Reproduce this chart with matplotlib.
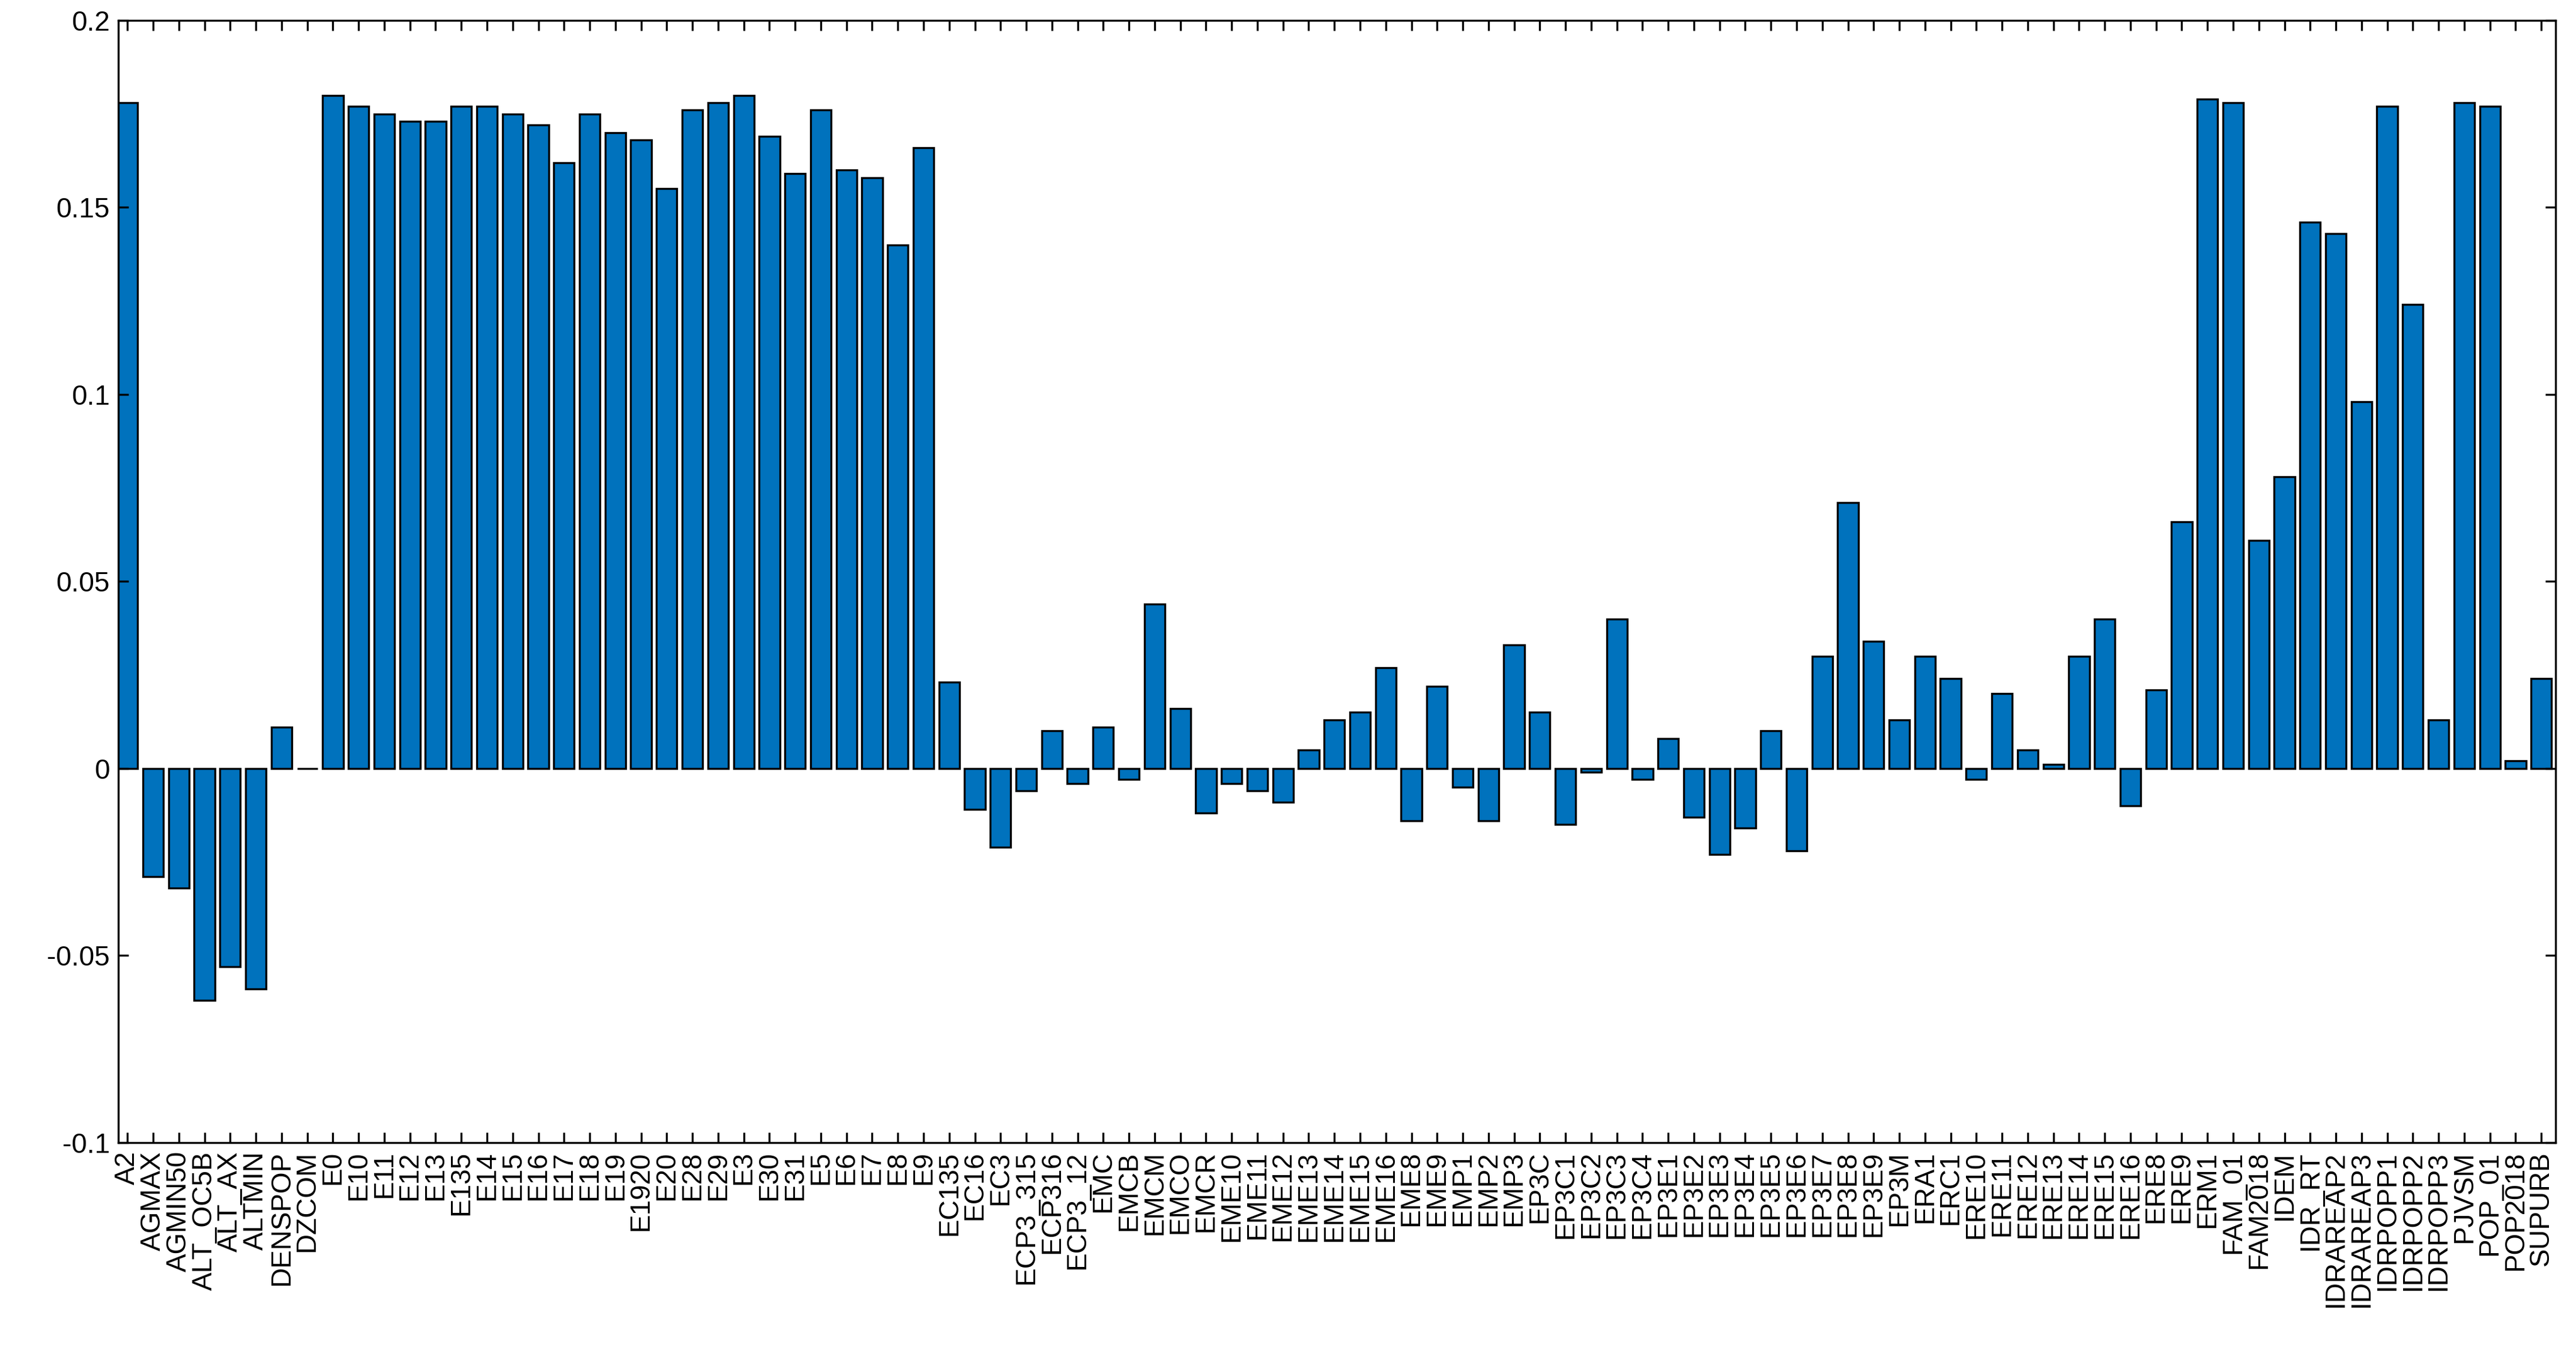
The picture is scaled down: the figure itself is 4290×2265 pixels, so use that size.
import matplotlib
matplotlib.use("Agg")
import matplotlib.pyplot as plt
import numpy as np

labels = ["A2","AGMAX","AGMIN50","ALT_OC5B","ALT_AX","ALTMIN","DENSPOP","DZCOM",
 "E0","E10","E11","E12","E13","E135","E14","E15","E16","E17","E18","E19","E1920","E20",
 "E28","E29","E3","E30","E31","E5","E6","E7","E8","E9","EC135","EC16","EC3","ECP3_315",
 "ECP316","ECP3_12","EMC","EMCB","EMCM","EMCO","EMCR","EME10","EME11","EME12","EME13",
 "EME14","EME15","EME16","EME8","EME9","EMP1","EMP2","EMP3","EP3C","EP3C1","EP3C2",
 "EP3C3","EP3C4","EP3E1","EP3E2","EP3E3","EP3E4","EP3E5","EP3E6","EP3E7","EP3E8","EP3E9",
 "EP3M","ERA1","ERC1","ERE10","ERE11","ERE12","ERE13","ERE14","ERE15","ERE16","ERE8",
 "ERE9","ERM1","FAM_01","FAM2018","IDEM","IDR_RT","IDRAREAP2","IDRAREAP3","IDRPOPP1",
 "IDRPOPP2","IDRPOPP3","PJVSM","POP_01","POP2018","SUPURB"]

values = [0.178,-0.029,-0.032,-0.062,-0.053,-0.059,0.011,0.0,
 0.180,0.177,0.175,0.173,0.173,0.177,0.177,0.175,0.172,0.162,0.175,0.170,0.168,0.155,
 0.176,0.178,0.180,0.169,0.159,0.176,0.160,0.158,0.140,0.166,0.023,-0.011,-0.021,-0.006,
 0.010,-0.004,0.011,-0.003,0.044,0.016,-0.012,-0.004,-0.006,-0.009,0.005,0.013,0.015,0.027,
 -0.014,0.022,-0.005,-0.014,0.033,0.015,-0.015,-0.001,0.040,-0.003,0.008,-0.013,-0.023,
 -0.016,0.010,-0.022,0.030,0.071,0.034,0.013,0.030,0.024,-0.003,0.020,0.005,0.001,0.030,
 0.040,-0.010,0.021,0.066,0.179,0.178,0.061,0.078,0.146,0.143,0.098,0.177,0.124,0.013,
 0.178,0.177,0.002,0.024]

yticks = [-0.1,-0.05,0,0.05,0.1,0.15,0.2]
yticklabels = ["-0.1","-0.05","0","0.05","0.1","0.15","0.2"]

plt.rcParams['font.family'] = ['Liberation Sans','DejaVu Sans']
fig = plt.figure(figsize=(14.3,7.55), dpi=300)
ax = fig.add_axes([0.046,0.16,0.946,0.825])
x = np.arange(1,len(values)+1)
ax.bar(x, values, width=0.8, color='#0072BD', edgecolor='black', linewidth=0.8)
ax.set_xlim(0.65,95.55)
ax.set_ylim(-0.1,0.2)
ax.set_yticks(yticks)
ax.set_yticklabels(yticklabels, fontsize=11)
ax.set_xticks(x)
ax.set_xticklabels(labels, rotation=90, fontsize=11)
ax.tick_params(direction='in', length=4, width=0.8, top=True, right=True)
for s in ax.spines.values():
    s.set_linewidth(0.8)
fig.savefig("out.png", dpi=300)
